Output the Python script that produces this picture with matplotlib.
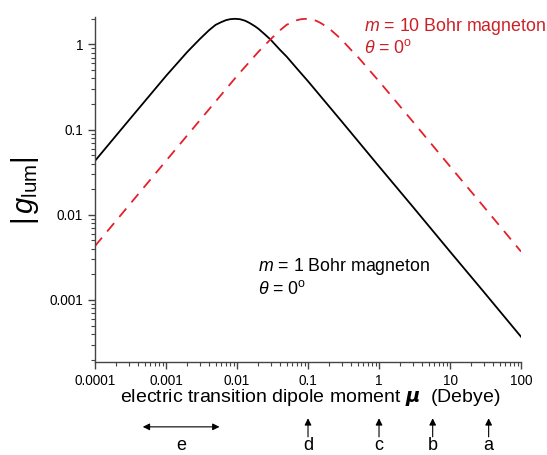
import numpy as np
import matplotlib
matplotlib.use("Agg")
import matplotlib.pyplot as plt
from matplotlib.ticker import LogLocator, FuncFormatter, NullFormatter
import matplotlib.transforms as mtransforms

plt.rcParams['font.family'] = ['Liberation Sans', 'DejaVu Sans']
plt.rcParams['mathtext.fontset'] = 'custom'
plt.rcParams['mathtext.rm'] = 'Liberation Sans'
plt.rcParams['mathtext.it'] = 'Liberation Sans:italic'
plt.rcParams['mathtext.bf'] = 'Liberation Sans:bold'

# dipole moment (Debye)
mu_black = [1e-4, 3e-4, 1e-3, 2e-3, 3e-3, 4e-3, 5e-3, 6e-3, 7e-3, 8e-3, 9.3e-3,
            0.011, 0.013, 0.015, 0.018, 0.02, 0.025, 0.03, 0.04, 0.05, 0.07,
            0.1, 0.3, 1, 3, 10, 30, 100]
g_black = [0.043, 0.129, 0.427, 0.82, 1.16, 1.46, 1.7, 1.83, 1.93, 1.98, 2.0,
           1.98, 1.9, 1.79, 1.63, 1.53, 1.3, 1.13, 0.87, 0.72, 0.52,
           0.37, 0.124, 0.037, 0.0124, 0.0037, 0.00124, 0.00037]

mu_red = [1e-4, 3e-4, 1e-3, 3e-3, 0.01, 0.02, 0.03, 0.04, 0.05, 0.06, 0.07, 0.08,
          0.093, 0.11, 0.13, 0.15, 0.18, 0.2, 0.25, 0.3, 0.4, 0.5, 0.7,
          1, 3, 10, 30, 100]
g_red = [0.0043, 0.0129, 0.043, 0.129, 0.427, 0.82, 1.16, 1.46, 1.7, 1.83, 1.93, 1.98,
         2.0, 1.98, 1.9, 1.79, 1.63, 1.53, 1.3, 1.13, 0.87, 0.72, 0.52,
         0.37, 0.124, 0.037, 0.0124, 0.0037]

arrow_x = [0.1, 1, 5.7, 35]
arrow_lbl = ['d', 'c', 'b', 'a']
e_range = [4.3e-4, 6.2e-3]

fig = plt.figure(figsize=(5.47, 4.55), dpi=100)
ax = fig.add_axes([0.1737, 0.2044, 0.7788, 0.7582])

ax.plot(mu_black, g_black, color='black', lw=1.3)
ax.plot(mu_red, g_red, color='#e3202a', lw=1.3, dashes=(6, 4.5))

ax.set_xscale('log')
ax.set_yscale('log')
ax.set_xlim(1e-4, 100)
ax.set_ylim(1.87e-4, 2.1)

for s in ['top', 'right']:
    ax.spines[s].set_visible(False)
for s in ['left', 'bottom']:
    ax.spines[s].set_color('#444444')
    ax.spines[s].set_linewidth(1.0)

fmt = FuncFormatter(lambda v, p: '%g' % v)
ax.xaxis.set_major_locator(LogLocator(base=10, numticks=20))
ax.xaxis.set_minor_locator(LogLocator(base=10, subs=np.arange(2, 10), numticks=20))
ax.yaxis.set_major_locator(LogLocator(base=10, numticks=20))
ax.yaxis.set_minor_locator(LogLocator(base=10, subs=np.arange(2, 10), numticks=20))
ax.xaxis.set_major_formatter(fmt)
ax.yaxis.set_major_formatter(fmt)
ax.xaxis.set_minor_formatter(NullFormatter())
ax.yaxis.set_minor_formatter(NullFormatter())
ax.tick_params(which='major', direction='out', length=5, width=1, color='#444444', labelsize=9.8)
ax.tick_params(which='minor', direction='out', length=3, width=0.8, color='#444444')

ax.text(0.505, -0.104, r'electric transition dipole moment $\boldsymbol{\mu}$  (Debye)',
        transform=ax.transAxes, ha='center', va='center', fontsize=14)
fig.text(0.046, 0.58, r'|$\,g_{\rm lum}$|', rotation=90, ha='center', va='center', fontsize=21)

ax.text(0.382, 0.265, r'$m$ = 1 Bohr magneton', transform=ax.transAxes, fontsize=12.8)
ax.text(0.382, 0.198, r'$\theta$ = 0$^{\rm o}$', transform=ax.transAxes, fontsize=12.8)
ax.text(0.631, 0.96, r'$m$ = 10 Bohr magneton', transform=ax.transAxes, fontsize=12.8, color='#cc1f26')
ax.text(0.631, 0.895, r'$\theta$ = 0$^{\rm o}$', transform=ax.transAxes, fontsize=12.8, color='#cc1f26')

trans = mtransforms.blended_transform_factory(ax.transData, ax.transAxes)
for xv, lb in zip(arrow_x, arrow_lbl):
    ax.annotate('', xy=(xv, -0.155), xytext=(xv, -0.225), xycoords=trans, textcoords=trans,
                arrowprops=dict(arrowstyle='-|>', color='black', lw=0.8, mutation_scale=10))
    ax.text(xv, -0.241, lb, transform=trans, ha='center', va='center', fontsize=13)
ax.annotate('', xy=(e_range[0], -0.188), xytext=(e_range[1], -0.188), xycoords=trans, textcoords=trans,
            arrowprops=dict(arrowstyle='<|-|>', color='black', lw=0.8, mutation_scale=10))
ax.text(np.sqrt(e_range[0] * e_range[1]), -0.241, 'e', transform=trans, ha='center', va='center', fontsize=13)

fig.savefig('out.png', dpi=100)
